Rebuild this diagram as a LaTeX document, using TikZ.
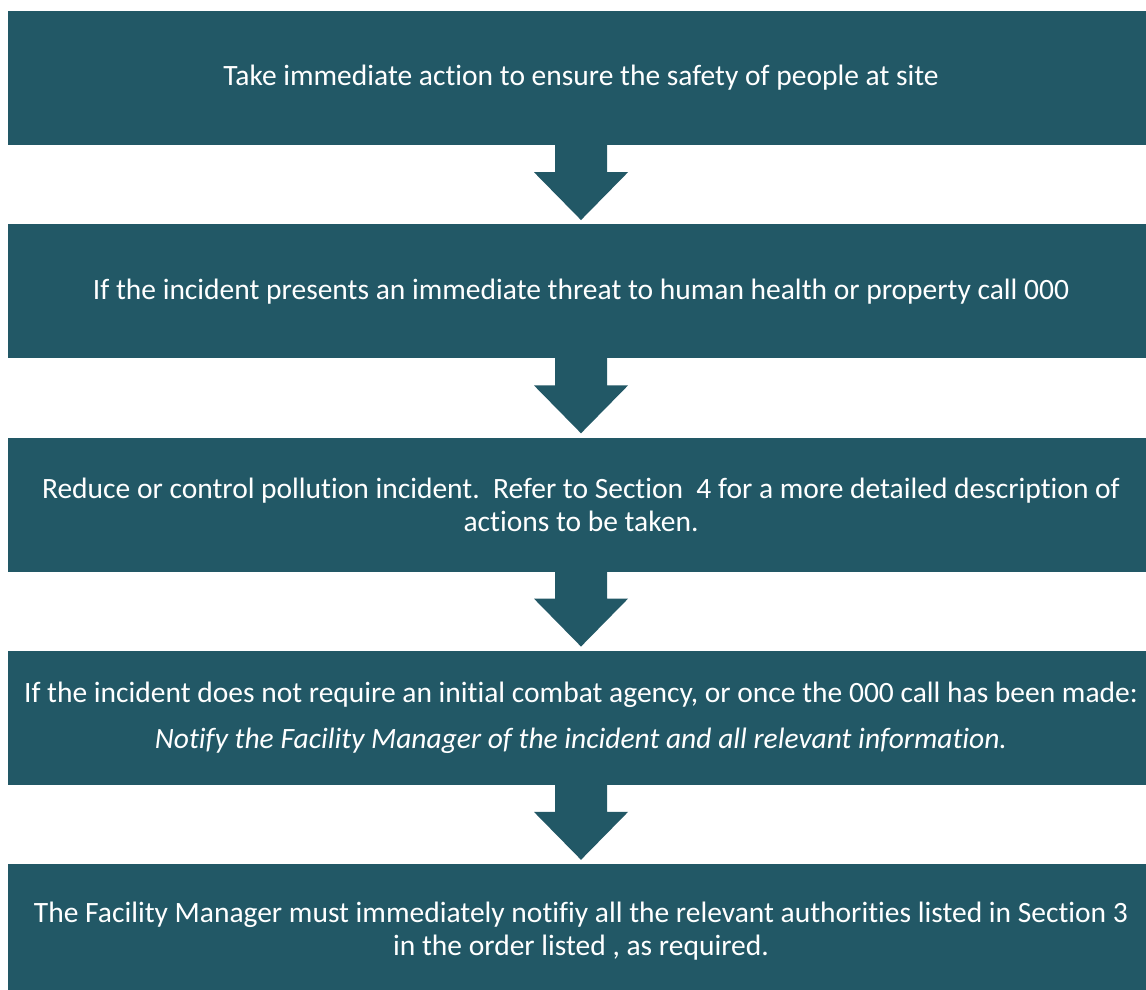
\documentclass[tikz,border=0pt]{standalone}
\usepackage{fontspec}
\setmainfont{Carlito}[Ligatures={NoCommon}]
\usetikzlibrary{calc}
\definecolor{stepteal}{RGB}{34,88,102}

\begin{document}
\begin{tikzpicture}[x=1pt,y=-1pt,
  stepbox/.style={fill=stepteal, text=white, minimum width=1146pt, minimum height=134pt,
    inner sep=0pt, align=center, font=\fontsize{29.5}{33}\selectfont},
  flow/.style={fill=stepteal}]

\useasboundingbox (0,0) rectangle (1146,990);
\clip (0,0) rectangle (1146,990);

% the steps
\node[stepbox] (s1) at (581,78) {Take immediate action to ensure the safety of people at site};
\node[stepbox] (s2) at (581,291.25) {If the incident presents an immediate threat to human health or property call 000};
\node[stepbox] (s3) at (581,504.5) {Reduce or control pollution incident.\ \ Refer to Section\ \ 4 for a more detailed description of\\ actions to be taken.};
\node[stepbox] (s4) at (581,717.75) {If the incident does not require an initial combat agency, or once the 000 call has been made:\\[13pt]
  \textit{Notify the Facility Manager of the incident and all relevant information.}};
\node[stepbox] (s5) at (581,931) {The Facility Manager must immediately notifiy all the relevant authorities listed in Section 3\\ in the order listed , as required.};

% block arrows between the steps
\foreach \a/\b in {s1/s2,s2/s3,s3/s4,s4/s5}{
    \fill[flow] ($(\a.south)+(-26,-1)$) -- ($(\a.south)+(-26,27)$) -- ($(\a.south)+(-47,27)$)
        -- ($(\b.north)+(0,-4)$) -- ($(\a.south)+(47,27)$) -- ($(\a.south)+(26,27)$)
        -- ($(\a.south)+(26,-1)$) -- cycle;
}

\end{tikzpicture}
\end{document}
